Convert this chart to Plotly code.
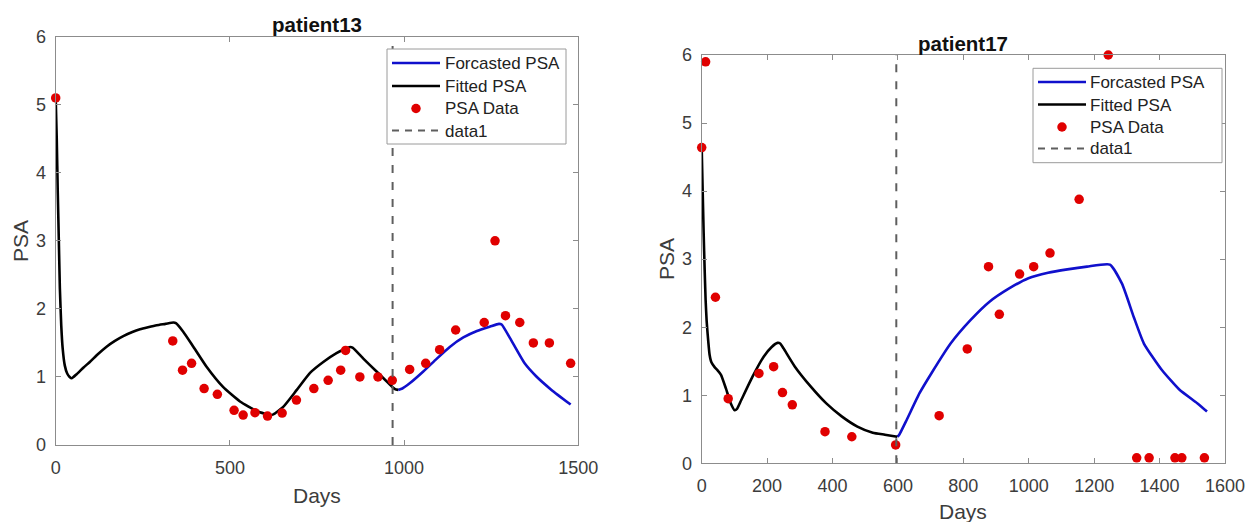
import plotly.graph_objects as go

# ---------------- patient13 (left) ----------------
p13_data_days = [0, 336, 364, 390, 426, 464, 512, 538, 572, 608, 650, 691, 741, 782, 818, 832,
                 873, 925, 966, 1016, 1062, 1102, 1148, 1230, 1261, 1291, 1332, 1371, 1417, 1478]
p13_data_psa = [5.1, 1.53, 1.10, 1.20, 0.83, 0.745, 0.51, 0.44, 0.475, 0.425, 0.47, 0.66, 0.83, 0.95,
                1.10, 1.39, 1.0, 1.0, 0.95, 1.11, 1.2, 1.4, 1.69, 1.8, 3.0, 1.9, 1.8, 1.5, 1.5, 1.2]

p13_fit_days = [0, 3, 6, 9, 12, 16, 20, 26, 33, 40, 46, 60, 80, 98, 120, 146, 170, 194, 220, 242,
                265, 290, 315, 338, 345, 366, 395, 433, 481, 529, 577, 600, 615, 625, 653, 692,
                730, 768, 806, 830, 845, 852, 883, 921, 955, 974, 983]
p13_fit_psa = [5.1, 4.5, 3.7, 3.0, 2.3, 1.75, 1.42, 1.17, 1.05, 1.0, 0.98, 1.04, 1.14, 1.22, 1.33,
               1.445, 1.53, 1.60, 1.66, 1.70, 1.73, 1.76, 1.78, 1.80, 1.79, 1.665, 1.445, 1.15, 0.85,
               0.64, 0.50, 0.46, 0.44, 0.45, 0.56, 0.81, 1.06, 1.22, 1.35, 1.41, 1.44, 1.43, 1.27,
               1.08, 0.91, 0.82, 0.81]

p13_fc_days = [983, 995, 1017, 1055, 1094, 1132, 1170, 1209, 1247, 1272, 1280, 1304, 1346, 1379,
               1423, 1478]
p13_fc_psa = [0.81, 0.83, 0.91, 1.08, 1.27, 1.445, 1.58, 1.675, 1.74, 1.78, 1.77, 1.57, 1.2, 1.01,
              0.81, 0.595]

p13_split_day = 967

# ---------------- patient17 (right) ----------------
p17_data_days = [0, 12, 42, 81, 175, 220, 247, 277, 377, 459, 593, 726, 812, 877, 910, 972, 1015,
                 1065, 1154, 1243, 1330, 1368, 1447, 1468, 1537]
p17_data_psa = [4.64, 5.90, 2.44, 0.95, 1.32, 1.42, 1.04, 0.86, 0.465, 0.39, 0.27, 0.70, 1.68, 2.89,
                2.19, 2.78, 2.89, 3.09, 3.88, 6.0, 0.08, 0.08, 0.08, 0.08, 0.08]

p17_fit_days = [0, 3, 6, 9, 12, 15, 18, 24, 30, 40, 48, 59, 74, 89, 101, 108, 121, 155, 190, 214,
                232, 240, 250, 285, 333, 381, 428, 476, 523, 560, 598]
p17_fit_psa = [4.64, 4.0, 3.38, 2.85, 2.4, 2.1, 1.91, 1.6, 1.48, 1.41, 1.37, 1.30, 1.10, 0.88, 0.78,
               0.80, 0.93, 1.27, 1.57, 1.71, 1.77, 1.76, 1.69, 1.42, 1.13, 0.88, 0.69, 0.54, 0.45,
               0.42, 0.39]

p17_fc_days = [598, 604, 627, 666, 702, 761, 821, 880, 940, 999, 1059, 1118, 1178, 1248, 1285, 1321,
               1352, 1407, 1461, 1516, 1545]
p17_fc_psa = [0.39, 0.42, 0.64, 1.03, 1.32, 1.76, 2.1, 2.375, 2.57, 2.72, 2.80, 2.85, 2.89, 2.92,
              2.64, 2.15, 1.76, 1.37, 1.08, 0.88, 0.76]

p17_split_day = 595

y_ticks = [0, 1, 2, 3, 4, 5, 6]
p13_x_ticks = [0, 500, 1000, 1500]
p17_x_ticks = [0, 200, 400, 600, 800, 1000, 1200, 1400, 1600]
legend_labels = ["Forcasted PSA", "Fitted PSA", "PSA Data", "data1"]

FONT = "Liberation Sans, Arial, Helvetica, sans-serif"
BLUE = "#1010cc"
RED = "#e00000"
DASH = "#5e5e5e"
AXC = "#8c8c8c"
TXT = "#3c3c3c"
W, H = 1248, 522

fig = go.Figure()


def add_panel(xa, ya, fc_x, fc_y, fit_x, fit_y, d_x, d_y, split):
    names = legend_labels
    fig.add_trace(go.Scatter(x=fc_x, y=fc_y, mode="lines", name=names[0],
                             line=dict(color=BLUE, width=2.6, shape="spline", smoothing=0.5),
                             xaxis=xa, yaxis=ya, cliponaxis=False, showlegend=False))
    fig.add_trace(go.Scatter(x=fit_x, y=fit_y, mode="lines", name=names[1],
                             line=dict(color="black", width=2.6, shape="spline", smoothing=0.5),
                             xaxis=xa, yaxis=ya, cliponaxis=False, showlegend=False))
    fig.add_trace(go.Scatter(x=d_x, y=d_y, mode="markers", name=names[2],
                             marker=dict(color=RED, size=9.5), xaxis=xa, yaxis=ya,
                             cliponaxis=False, showlegend=False))
    fig.add_trace(go.Scatter(x=[split, split], y=[0, 6], mode="lines", name=names[3],
                             line=dict(color=DASH, width=2, dash="8px,9px"), xaxis=xa, yaxis=ya,
                             showlegend=False))


add_panel("x", "y", p13_fc_days, p13_fc_psa, p13_fit_days, p13_fit_psa,
          p13_data_days, p13_data_psa, p13_split_day)
add_panel("x2", "y2", p17_fc_days, p17_fc_psa, p17_fit_days, p17_fit_psa,
          p17_data_days, p17_data_psa, p17_split_day)


def px_x(p):
    return p / W


def px_y(p):
    return 1 - p / H


axis_common = dict(showline=True, linecolor=AXC, linewidth=1.2, mirror="ticks", ticks="inside",
                   ticklen=5, tickcolor=AXC, tickwidth=1, showgrid=False, zeroline=False,
                   tickfont=dict(family=FONT, size=18, color=TXT), automargin=False)

fig.update_layout(
    width=W, height=H,
    margin=dict(l=0, r=0, t=0, b=0),
    paper_bgcolor="white", plot_bgcolor="white",
    font=dict(family=FONT, color=TXT),
    showlegend=False,
    xaxis=dict(domain=[px_x(55.7), px_x(578.3)], range=[0, 1500], tickvals=p13_x_ticks,
               anchor="y", ticklabelstandoff=6, **axis_common),
    yaxis=dict(domain=[px_y(445), px_y(36.7)], range=[0, 6], tickvals=y_ticks,
               anchor="x", ticklabelstandoff=5, **axis_common),
    xaxis2=dict(domain=[px_x(701.7), px_x(1225)], range=[0, 1600], tickvals=p17_x_ticks,
                anchor="y2", ticklabelstandoff=6, **axis_common),
    yaxis2=dict(domain=[px_y(463.3), px_y(55)], range=[0, 6], tickvals=y_ticks,
                anchor="x2", ticklabelstandoff=5, **axis_common),
)

ann = []
shapes = []


def text(t, x, y, size, color=TXT, xanchor="center", angle=0):
    ann.append(dict(text=t, x=px_x(x), y=px_y(y), xref="paper", yref="paper", showarrow=False,
                    xanchor=xanchor, yanchor="middle", textangle=angle,
                    font=dict(family=FONT, size=size, color=color)))


# titles and axis labels
text("<b>patient13</b>", 317, 25, 20.5, "#111111")
text("<b>patient17</b>", 963, 43, 20.5, "#111111")
text("Days", 317, 495, 21)
text("Days", 963, 511, 21)
text("PSA", 20, 241, 21, angle=-90)
text("PSA", 666, 259, 21, angle=-90)


# legends (drawn in paper space, matching MATLAB-style legend boxes)
def legend_box(x0, x1, y0, y1, line_x0, line_x1, text_x, rows):
    shapes.append(dict(type="rect", xref="paper", yref="paper", x0=px_x(x0), x1=px_x(x1),
                       y0=px_y(y1), y1=px_y(y0), line=dict(color="#9a9a9a", width=1),
                       fillcolor="white", layer="above"))
    styles = [dict(color=BLUE, width=2.6), dict(color="black", width=2.6), None,
              dict(color=DASH, width=2, dash="7px,6px")]
    for lab, st, ry in zip(legend_labels, styles, rows):
        if st is None:
            cx = (line_x0 + line_x1) / 2
            r = 4.75
            shapes.append(dict(type="circle", xref="paper", yref="paper",
                               x0=px_x(cx - r), x1=px_x(cx + r), y0=px_y(ry + r), y1=px_y(ry - r),
                               fillcolor=RED, line=dict(color=RED, width=0), layer="above"))
        else:
            shapes.append(dict(type="line", xref="paper", yref="paper", x0=px_x(line_x0),
                               x1=px_x(line_x1), y0=px_y(ry), y1=px_y(ry), line=st,
                               layer="above"))
        text(lab, text_x, ry + 0.5, 17, "#222222", xanchor="left")


legend_box(387, 566, 49, 144, 392, 440, 443, [63, 86, 108.5, 130.5])
legend_box(1033, 1222, 68.3, 162.7, 1038, 1086, 1088, [82, 104.5, 127, 148.5])

fig.update_layout(annotations=ann, shapes=shapes)

fig.write_html("out.html", config={"displayModeBar": False},
               post_script="document.body.style.margin='0';document.body.style.overflow='hidden';")
